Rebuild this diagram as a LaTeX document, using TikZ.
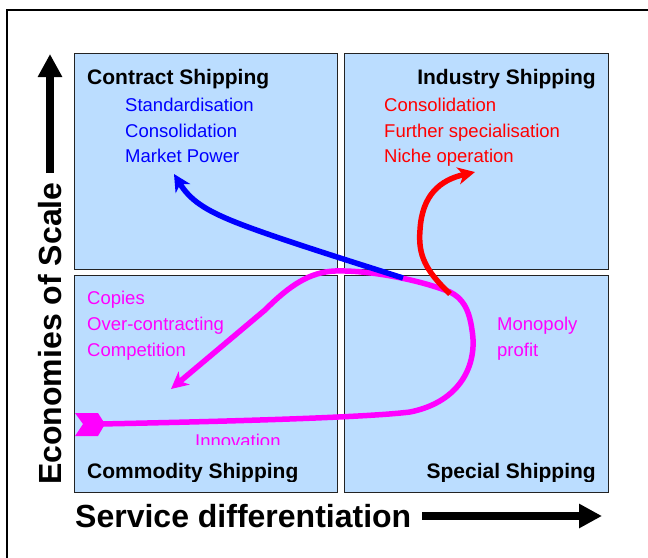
\documentclass[tikz,border=0pt]{standalone}
\usepackage{fontspec}
\setmainfont{Liberation Sans}
\usetikzlibrary{arrows.meta}
\definecolor{boxfill}{RGB}{187,221,255}
\definecolor{boxline}{RGB}{35,35,35}
\definecolor{mag}{RGB}{255,0,255}
\begin{document}
\begin{tikzpicture}[x=1pt,y=-1pt,
  quad/.style={draw=boxline,line width=1.3pt,fill=boxfill,inner sep=0pt,anchor=north west},
  head/.style={font=\fontsize{21}{24}\selectfont\bfseries,inner sep=0pt},
  item/.style={font=\fontsize{18.5}{22}\selectfont,inner sep=0pt,anchor=base west},
  axislabel/.style={font=\fontsize{32}{36}\selectfont\bfseries,inner sep=0pt},
  flow/.style={line width=5.5pt,-{Stealth[length=17pt,width=17pt,inset=5pt]}},
  bigarrow/.style={line width=7.5pt,-{Triangle[length=23pt,width=23pt]}}
]
\useasboundingbox (0,0) rectangle (648,557);
\fill[white] (0,0) rectangle (648,557);
\draw[line width=1.5pt] (7,570) -- (7,10) -- (660,10);

% quadrants
\node[quad,minimum width=263pt,minimum height=216pt] (qtl) at (74,53) {};
\node[quad,minimum width=264pt,minimum height=216pt] (qtr) at (344,53) {};
\node[quad,minimum width=263pt,minimum height=217pt] (qbl) at (74,275) {};
\node[quad,minimum width=264pt,minimum height=217pt] (qbr) at (344,275) {};

% headings
\node[head,anchor=base west] (hcs) at (87,84) {Contract Shipping};
\node[head,anchor=base east] (his) at (596,84) {Industry Shipping};
\begin{scope}
\clip (80,440) rectangle (605,481);
\node[head,anchor=base west] (hcm) at (87,478) {Commodity Shipping};
\node[head,anchor=base east] (hss) at (596,478) {Special Shipping};
\end{scope}

% items
\node[item,text=blue] (b1) at (125,111) {Standardisation};
\node[item,text=blue] (b2) at (125,137) {Consolidation};
\node[item,text=blue] (b3) at (125,162) {Market Power};
\node[item,text=red] (r1) at (384,111) {Consolidation};
\node[item,text=red] (r2) at (384,137) {Further specialisation};
\node[item,text=red] (r3) at (384,162) {Niche operation};
\node[item,text=mag] (m1) at (87,304) {Copies};
\node[item,text=mag] (m2) at (87,330) {Over-contracting};
\node[item,text=mag] (m3) at (87,356) {Competition};
\node[item,text=mag] (m4) at (497,330) {Monopoly};
\node[item,text=mag] (m5) at (497,356) {profit};
\begin{scope}
\clip (150,400) rectangle (320,444);
\node[item,text=mag] (m6) at (195,447) {Innovation};
\end{scope}

% axes
\coordinate (ua0) at (50,173);
\coordinate (ua1) at (50,54);
\draw[bigarrow] (ua0) -- (ua1);
\node[axislabel,rotate=90,anchor=base west] (eos) at (61,485) {Economies of Scale};
\node[axislabel,anchor=base west] (sd) at (75,527) {Service differentiation};
\coordinate (ra0) at (422,516);
\coordinate (ra1) at (602,516);
\draw[bigarrow] (ra0) -- (ra1);

% magenta loop
\fill[mag] (75,413) -- (98,413) -- (105,424) -- (98,436) -- (75,436) -- (83,424) -- cycle;
\coordinate (ms) at (100,424);
\coordinate (me) at (171,389);
\draw[flow,draw=mag] (ms) .. controls (250,421) and (370,417) .. (410,412)
  .. controls (460,402) and (478,365) .. (472,330)
  .. controls (469,308) and (462,298) .. (450,292)
  .. controls (420,280) and (370,270) .. (335,271)
  .. controls (310,272) and (290,285) .. (265,310)
  -- (me);

% blue branch
\coordinate (bs) at (403,278);
\coordinate (be) at (174,174);
\draw[flow,draw=blue] (bs) .. controls (340,258) and (270,236) .. (235,222)
  .. controls (205,210) and (190,200) .. (be);

% red branch
\coordinate (rs) at (450,294);
\coordinate (re) at (475,172);
\draw[flow,draw=red] (rs) .. controls (425,270) and (418,255) .. (420,230)
  .. controls (422,195) and (440,180) .. (re);
\end{tikzpicture}
\end{document}
